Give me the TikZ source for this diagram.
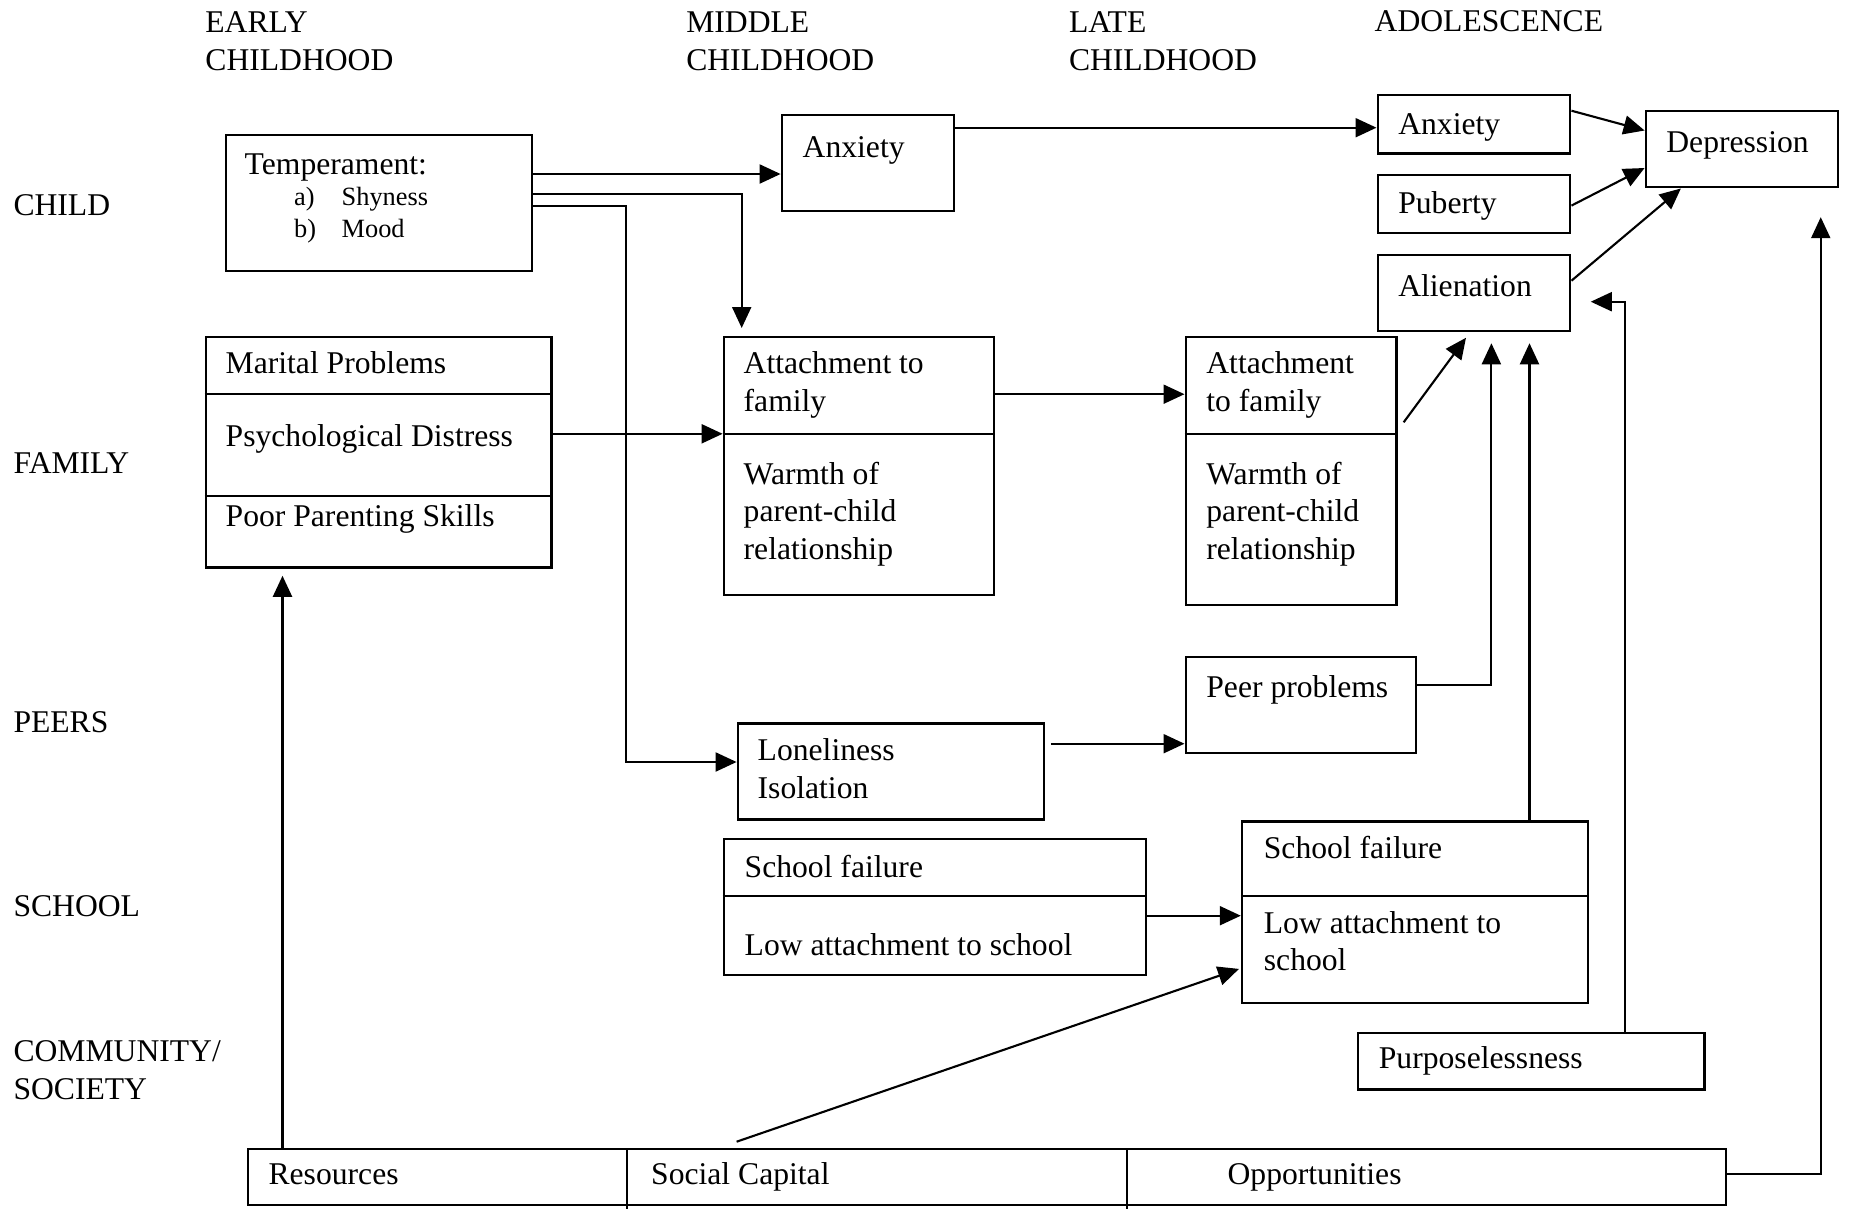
\documentclass[tikz,border=0pt]{standalone}
\usepackage{fontspec}
\setmainfont{Liberation Serif}
\usetikzlibrary{arrows.meta,positioning}
\tikzset{
        % Boxes, placed by their top left corner
        box/.style={draw, rectangle, anchor=north west, inner sep=0pt, line width=0.7pt},
        % Text lines, placed by the baseline of their last line
        txt/.style={anchor=base west, inner sep=0pt, align=left, font=\fontsize{9}{10.7}\selectfont},
        % Smaller list text
        small/.style={txt, font=\fontsize{7.5}{9}\selectfont},
        % Connectors
        link/.style={line width=0.6pt}
}

\begin{document}
\begin{tikzpicture}[
            >={Triangle[length=2.1mm, width=1.9mm]},
            every path/.style={line join=miter}
        ]
            \useasboundingbox (0,0) rectangle (18.49,-12.09);
            % column headers
            \node[txt] (early) at (2.047,-0.704) {EARLY\\CHILDHOOD};
            \node[txt] (middle) at (6.856,-0.704) {MIDDLE\\CHILDHOOD};
            \node[txt] (late) at (10.683,-0.704) {LATE\\CHILDHOOD};
            \node[txt] (adol) at (13.74,-0.316) {ADOLESCENCE};
            % row labels
            \node[txt] (child) at (0.128,-2.155) {CHILD};
            \node[txt] (familylbl) at (0.128,-4.73) {FAMILY};
            \node[txt] (peers) at (0.128,-7.32) {PEERS};
            \node[txt] (school) at (0.128,-9.165) {SCHOOL};
            \node[txt] (community) at (0.128,-10.99) {COMMUNITY/\\SOCIETY};

            % boxes
            \node[box, minimum width=3.06cm, minimum height=1.364cm] (temper) at (2.245,-1.336) {};
            \node[box, minimum width=1.72cm, minimum height=0.96cm] (anxm) at (7.806,-1.14) {};
            \node[box, minimum width=3.457cm, minimum height=2.302cm] (family) at (2.047,-3.36) {};
            \node[box, minimum width=2.704cm, minimum height=2.58cm] (attm) at (7.226,-3.36) {};
            \node[box, minimum width=2.107cm, minimum height=2.678cm] (attl) at (11.845,-3.36) {};
            \node[box, minimum width=1.925cm, minimum height=0.585cm] (anxa) at (13.765,-0.937) {};
            \node[box, minimum width=1.925cm, minimum height=0.58cm] (pub) at (13.765,-1.74) {};
            \node[box, minimum width=1.925cm, minimum height=0.76cm] (alien) at (13.765,-2.54) {};
            \node[box, minimum width=1.924cm, minimum height=0.76cm] (depr) at (16.446,-1.10) {};
            \node[box, minimum width=3.063cm, minimum height=0.96cm] (lonely) at (7.366,-7.223) {};
            \node[box, minimum width=2.305cm, minimum height=0.963cm] (peer) at (11.845,-6.555) {};
            \node[box, minimum width=4.22cm, minimum height=1.36cm] (schm) at (7.226,-8.38) {};
            \node[box, minimum width=3.462cm, minimum height=1.818cm] (schl) at (12.408,-8.202) {};
            \node[box, minimum width=3.463cm, minimum height=0.564cm] (purp) at (13.57,-10.318) {};
            \node[box, minimum width=14.782cm, minimum height=0.56cm] (comm) at (2.468,-11.48) {};

            % dividers
            \draw[link] ([yshift=-0.582cm]family.north west) -- ([yshift=-0.582cm]family.north east);
            \draw[link] ([yshift=-1.598cm]family.north west) -- ([yshift=-1.598cm]family.north east);
            \draw[link] ([yshift=-0.978cm]attm.north west) -- ([yshift=-0.978cm]attm.north east);
            \draw[link] ([yshift=-0.978cm]attl.north west) -- ([yshift=-0.978cm]attl.north east);
            \draw[link] ([yshift=-0.583cm]schm.north west) -- ([yshift=-0.583cm]schm.north east);
            \draw[link] ([yshift=-0.761cm]schl.north west) -- ([yshift=-0.761cm]schl.north east);
            \draw[link] ([xshift=3.802cm]comm.north west) -- ([xshift=3.802cm, yshift=-0.05cm]comm.south west);
            \draw[link] ([xshift=8.802cm]comm.north west) -- ([xshift=8.802cm, yshift=-0.05cm]comm.south west);

            % box texts
            \node[txt] (tempt) at (2.44,-1.74) {Temperament:};
            \node[small] (tempa) at (2.934,-2.056) {a)};
            \node[small] (tempas) at (3.41,-2.056) {Shyness};
            \node[small] (tempb) at (2.934,-2.37) {b)};
            \node[small] (tempbm) at (3.41,-2.37) {Mood};
            \node[txt] (anxmt) at (8.02,-1.574) {Anxiety};
            \node[txt] (famt1) at (2.25,-3.737) {Marital Problems};
            \node[txt] (famt2) at (2.25,-4.468) {Psychological Distress};
            \node[txt] (famt3) at (2.25,-5.26) {Poor Parenting Skills};
            \node[txt] (attmt1) at (7.43,-4.112) {Attachment to\\family};
            \node[txt] (attmt2) at (7.43,-5.595) {Warmth of\\parent-child\\relationship};
            \node[txt] (attlt1) at (12.057,-4.112) {Attachment\\to family};
            \node[txt] (attlt2) at (12.057,-5.595) {Warmth of\\parent-child\\relationship};
            \node[txt] (anxat) at (13.976,-1.344) {Anxiety};
            \node[txt] (pubt) at (13.976,-2.135) {Puberty};
            \node[txt] (alient) at (13.976,-2.966) {Alienation};
            \node[txt] (deprt) at (16.657,-1.522) {Depression};
            \node[txt] (lonelyt) at (7.57,-7.98) {Loneliness\\Isolation};
            \node[txt] (peert) at (12.057,-6.97) {Peer problems};
            \node[txt] (schmt1) at (7.44,-8.777) {School failure};
            \node[txt] (schmt2) at (7.44,-9.553) {Low attachment to school};
            \node[txt] (schlt1) at (12.632,-8.583) {School failure};
            \node[txt] (schlt2) at (12.632,-9.709) {Low attachment to\\school};
            \node[txt] (purpt) at (13.782,-10.68) {Purposelessness};
            \node[txt] (commt1) at (2.679,-11.845) {Resources};
            \node[txt] (commt2) at (6.505,-11.845) {Social Capital};
            \node[txt] (commt3) at (12.269,-11.845) {Opportunities};

            % connectors
            \coordinate (tbend) at (6.263,-7.62);
            \coordinate (alienlow) at ([yshift=-0.108cm]alien.south);
            \coordinate (famlow) at ([yshift=-0.071cm]family.south);
            \draw[link,->] ([yshift=-0.404cm]temper.north east) coordinate (t1) -- (t1 -| anxm.west);
            \draw[link,->] ([yshift=-0.601cm]temper.north east) -| ([xshift=0.191cm, yshift=0.08cm]attm.north west);
            \draw[link,->] ([yshift=-0.72cm]temper.north east) -| (tbend) -- (tbend -| lonely.west);
            \draw[link,->] ([yshift=-0.978cm]family.north east) -- ([yshift=-0.978cm]attm.north west);
            \draw[link,->] ([yshift=-0.137cm]anxm.north east) coordinate (a1) -- (a1 -| anxa.west);
            \draw[link,->] ([yshift=-0.582cm]attm.north east) -- ([yshift=-0.582cm]attl.north west);
            \draw[link,->] ([xshift=0.06cm, yshift=-0.863cm]attl.north east) -- ([xshift=0.895cm, yshift=-0.053cm]alien.south west);
            \draw[link,->] ([yshift=-0.299cm]peer.north east) -| ([xshift=1.149cm]alienlow -| alien.west);
            \draw[link,->] ([xshift=2.887cm]schl.north west) coordinate (s1) -- (s1 |- alienlow);
            \draw[link,->] ([xshift=2.676cm]purp.north west) |- ([xshift=0.193cm, yshift=-0.477cm]alien.north east);
            \draw[link,->] ([yshift=-0.17cm]anxa.north east) -- ([yshift=-0.205cm]depr.north west);
            \draw[link,->] ([yshift=-0.316cm]pub.north east) -- ([yshift=-0.58cm]depr.north west);
            \draw[link,->] ([yshift=-0.267cm]alien.north east) -- ([xshift=0.363cm]depr.south west);
            \draw[link,->] ([xshift=0.054cm, yshift=-0.214cm]lonely.north east) coordinate (l1) -- (l1 -| peer.west);
            \draw[link,->] ([yshift=-0.777cm]schm.north east) coordinate (s2) -- (s2 -| schl.west);
            \draw[link,->] ([xshift=4.898cm, yshift=0.063cm]comm.north west) -- ([xshift=-0.018cm, yshift=-1.487cm]schl.north west);
            \draw[link,->] ([xshift=0.357cm]comm.north west) coordinate (r1) -- (r1 |- famlow);
            \draw[link,->] ([yshift=-0.256cm]comm.north east) -| ([xshift=-0.187cm, yshift=-0.287cm]depr.south east);
        \end{tikzpicture}
\end{document}
